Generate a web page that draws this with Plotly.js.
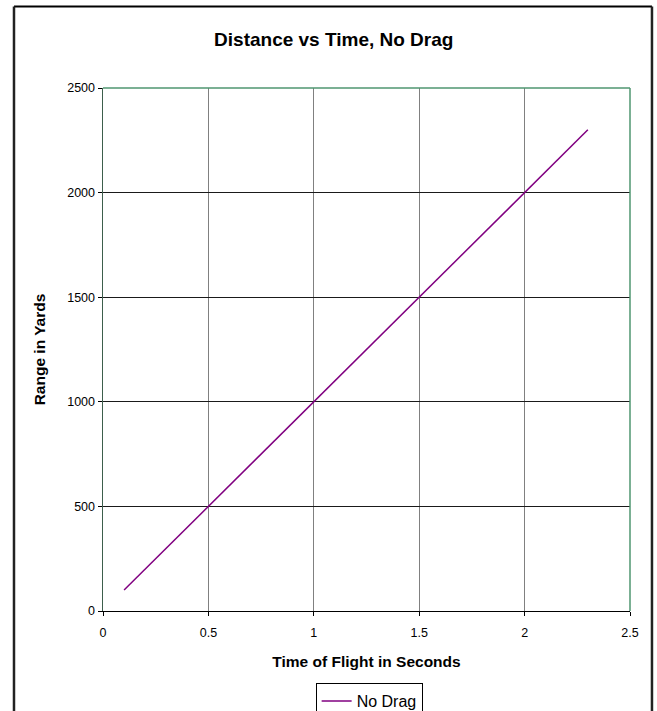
<!DOCTYPE html>
<html>
<head>
<meta charset="utf-8">
<script src="https://cdn.plot.ly/plotly-3.0.1.min.js"></script>
<style>html,body{margin:0;padding:0;background:#fff;}#chart{width:657px;height:711px;}</style>
</head>
<body>
<div id="chart"></div>
<script>
const timeSeconds = [0.1,0.2,0.3,0.4,0.5,0.6,0.7,0.8,0.9,1.0,1.1,1.2,1.3,1.4,1.5,1.6,1.7,1.8,1.9,2.0,2.1,2.2,2.3];
const rangeYards = [100,200,300,400,500,600,700,800,900,1000,1100,1200,1300,1400,1500,1600,1700,1800,1900,2000,2100,2200,2300];
const xTicks = [0,0.5,1,1.5,2,2.5];
const xTickText = ['0','0.5','1','1.5','2','2.5'];
const yTicks = [0,500,1000,1500,2000,2500];

const font = 'Liberation Sans, Arial, sans-serif';
const trace = {
  x: timeSeconds, y: rangeYards, type: 'scatter', mode: 'lines', name: 'No Drag',
  line: {color: '#800080', width: 1.5}
};
const layout = {
  width: 657, height: 711,
  margin: {l: 103, r: 27, t: 88, b: 100, autoexpand: false},
  paper_bgcolor: '#fff', plot_bgcolor: '#fff',
  font: {family: font, size: 12, color: '#000'},
  title: {text: '<b>Distance vs Time, No Drag</b>', font: {family: font, size: 19, color: '#000'},
          x: 0.508, xref: 'container', y: 0.944, yanchor: 'middle'},
  xaxis: {range: [0, 2.5], tickvals: xTicks, ticktext: xTickText, showgrid: true, gridcolor: '#808080', gridwidth: 1,
          zeroline: false, showline: true, linecolor: '#000', linewidth: 1, ticks: 'outside', ticklen: 4, tickcolor: '#000',
          ticklabelstandoff: 6, tickfont: {size: 12.5}, fixedrange: true, automargin: false,
          title: {text: '<b>Time of Flight in Seconds</b>', font: {size: 15.5}, standoff: 17}},
  yaxis: {range: [0, 2500], tickvals: yTicks, showgrid: true, gridcolor: '#1a1a1a', gridwidth: 1,
          zeroline: false, showline: true, linecolor: '#3d5e4c', linewidth: 1.5, ticks: 'outside', ticklen: 4, tickcolor: '#000',
          tickfont: {size: 12.5}, fixedrange: true, automargin: false,
          title: {text: '<b>Range in Yards</b>', font: {size: 15.5}, standoff: 18}},
  showlegend: true,
  legend: {x: 0.505, xanchor: 'center', y: -0.138, yanchor: 'top', orientation: 'h',
           bordercolor: '#000', borderwidth: 1, bgcolor: '#fff', font: {size: 16}},
  shapes: [
    {type: 'line', xref: 'paper', yref: 'paper', x0: 0, x1: 1, y0: 1, y1: 1, line: {color: '#4f9670', width: 1.5}},
    {type: 'line', xref: 'paper', yref: 'paper', x0: 1, x1: 1, y0: 0, y1: 1, line: {color: '#4f9670', width: 1.5}},
    {type: 'line', xref: 'paper', yref: 'paper', x0: -0.1689, x1: 1.0417, y0: 1.1558, y1: 1.1558, line: {color: '#000', width: 2}},
    {type: 'line', xref: 'paper', yref: 'paper', x0: -0.1689, x1: -0.1689, y0: 1.1558, y1: -0.25, line: {color: '#222', width: 2.5}},
    {type: 'line', xref: 'paper', yref: 'paper', x0: 1.0417, x1: 1.0417, y0: 1.1558, y1: -0.25, line: {color: '#222', width: 2.5}}
  ]
};
Plotly.newPlot('chart', [trace], layout, {displayModeBar: false, staticPlot: true});
</script>
</body>
</html>
